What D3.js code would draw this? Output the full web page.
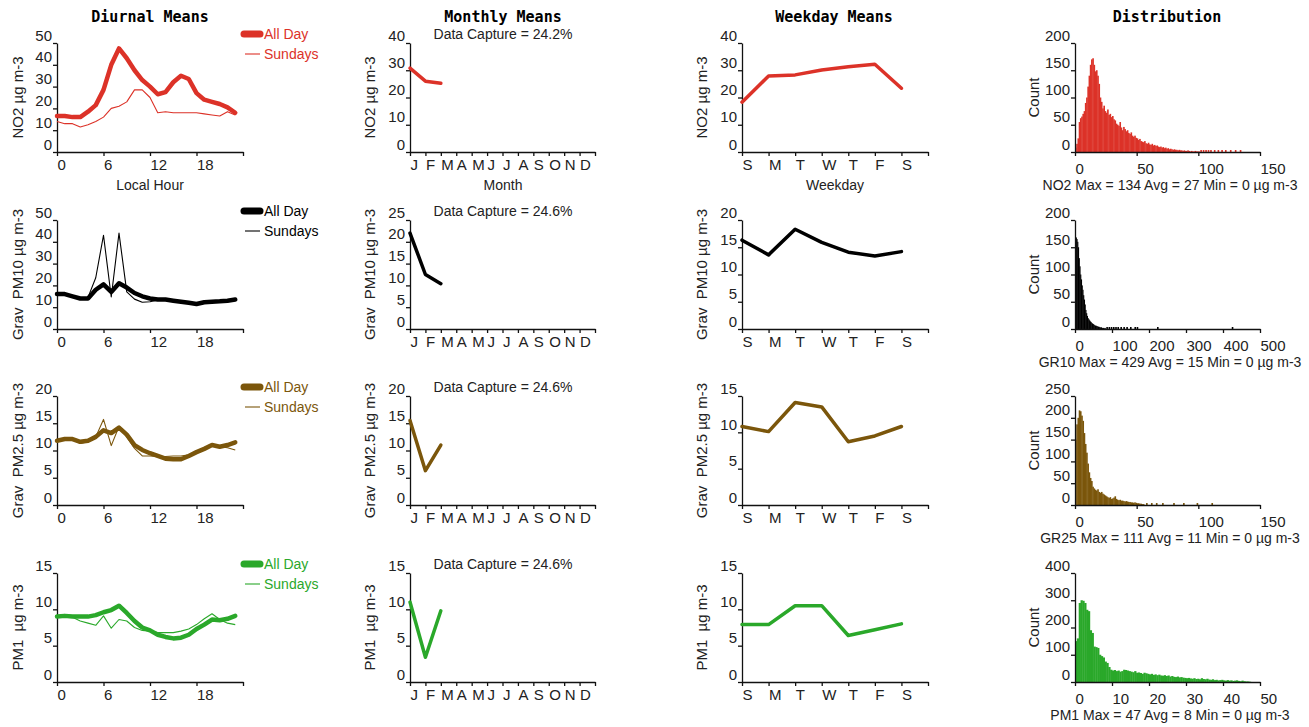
<!DOCTYPE html>
<html><head><meta charset="utf-8">
<script src="https://cdn.jsdelivr.net/npm/d3@7"></script>
<style>
body{margin:0;background:#fff;}
svg text{font-family:Arial,"Liberation Sans",sans-serif;}
.ttl{font-family:"DejaVu Sans Mono","Liberation Mono",monospace !important;font-weight:bold;}
</style>
</head><body>
<svg id="chart" width="1309" height="727"></svg>
<script>
// ---------------- DATA ----------------
const seriesNames = ["NO2", "Grav  PM10", "Grav  PM2.5", "PM1 "];
const seriesColors = ["#dc3228", "#000000", "#7b560b", "#2aa82a"];
const unitLabel = "µg m-3";

const hours = [0,1,2,3,4,5,6,7,8,9,10,11,12,13,14,15,16,17,18,19,20,21,22,23];
const hourTicks = [0, 6, 12, 18, 24];
const hourTickLabels = ["0", "6", "12", "18", ""];

const diurnalNO2All = [16.5,16.5,16,16,18.5,21.5,28.5,40,47.5,43,37.5,33,30,26.5,27.5,32,35,33.5,27,24,23,22,20.5,18];
const diurnalNO2Sun = [14,13,13,11.5,12.5,14,16,20,21,23,28.5,28.5,25,18,18.5,18,18,18,18,17.5,17,16.5,18.5,17];
const diurnalPM10All = [16,16,15,14,14,18,20.5,17,21,19,16.5,15,14,13.5,13.5,13,12.5,12,11.5,12.3,12.5,12.7,13,13.5];
const diurnalPM10Sun = [15.5,15.7,15.5,14,14.5,23.5,43,14.7,44,17,13.7,12.3,12.5,13.3,13.3,12.8,12.3,11.8,11.3,12,12.3,12.5,12.8,13.2];
const diurnalPM25All = [11.8,12.1,12.1,11.6,11.8,12.5,13.7,13.2,14.2,12.9,11,10.1,9.5,9,8.5,8.4,8.4,9,9.7,10.3,11,10.7,11,11.5];
const diurnalPM25Sun = [11.8,12.1,12.1,11.3,11.6,12.5,15.7,10.9,14.4,12.5,10.4,9,9,8.9,8.9,9,9,9.2,9.7,10.3,11.1,10.7,10.5,10.1];
const diurnalPM1All = [9.0,9.1,9.0,9.0,9.0,9.2,9.6,9.9,10.5,9.5,8.4,7.5,7.1,6.5,6.2,6.0,6.1,6.5,7.3,7.9,8.6,8.5,8.7,9.1];
const diurnalPM1Sun = [9.0,9.1,8.9,8.4,8.1,7.8,9.1,7.4,8.6,8.4,7.5,7.1,7.0,6.8,6.8,6.8,7.0,7.3,7.9,8.7,9.4,8.6,8.1,7.9];

const monthLabels = ["J","F","M","A","M","J","J","A","S","O","N","D"];
const monthlyNO2 = [30.8, 26.0, 25.2];
const monthlyPM10 = [22.0, 12.5, 10.4];
const monthlyPM25 = [15.5, 6.3, 11.0];
const monthlyPM1 = [11.0, 3.4, 9.8];
const dataCapture = ["24.2%", "24.6%", "24.6%", "24.6%"];

const weekdayLabels = ["S","M","T","W","T","F","S"];
const weekdayNO2 = [18.3, 27.9, 28.3, 30.1, 31.3, 32.2, 23.4];
const weekdayPM10 = [16.3, 13.6, 18.3, 15.9, 14.1, 13.4, 14.2];
const weekdayPM25 = [10.8, 10.1, 14.1, 13.5, 8.7, 9.5, 10.8];
const weekdayPM1 = [7.9, 7.9, 10.5, 10.5, 6.4, 7.2, 8.0];

// y-axis maxima / steps per column
const diurnalYMax = [50, 50, 20, 15], diurnalYStep = [10, 10, 5, 5];
const monthlyYMax = [40, 25, 20, 15], monthlyYStep = [10, 5, 5, 5];
const weekdayYMax = [40, 20, 15, 15], weekdayYStep = [10, 5, 5, 5];
const distYMax = [200, 200, 250, 400], distYStep = [50, 50, 50, 100];
const distXMax = [150, 500, 150, 50], distXStep = [50, 100, 50, 10];

// distribution captions
const distNames = ["NO2", "GR10", "GR25", "PM1"];
const distMax = [134, 429, 111, 47];
const distAvg = [27, 15, 11, 8];
const distMin = [0, 0, 0, 0];

// histogram counts (dense part: bin i starts at i*binWidth) + sparse tail [value,count]
const histBinWidth = [1, 2, 1, 0.5];
const histNO2 = [8,15,25,55,62,65,70,75,90,100,120,140,160,170,172,160,148,150,140,125,100,92,80,85,75,72,78,68,70,64,66,60,58,52,50,48,55,45,40,46,42,38,40,35,33,36,30,28,30,26,25,22,24,20,19,18,20,16,15,17,14,13,15,12,13,11,12,10,9,10,8,9,7,8,6,7,5,6,5,4,5,4,4,3,4,3,3,2,3,2,2,3,2,1,2,1,1,2,1,1,1];
const tailNO2 = [[102,1],[104,1],[106,1],[108,2],[110,1],[113,1],[116,2],[119,1],[122,1],[126,1],[130,1],[134,1]];
const histGR10 = [150,168,165,160,150,130,115,100,91,80,72,62,54,45,35,29,24,20,18,16,14,13,11,10,9,8,7,6,6,5,5,4,4,3,3,3,2,2,2,1,2];
const tailGR10 = [[86,1],[92,1],[98,2],[104,1],[110,1],[116,2],[124,1],[132,1],[140,1],[150,1],[162,1],[168,1],[223,2],[425,2]];
const histGR25 = [150,185,200,217,215,205,193,165,140,120,95,75,62,55,42,38,35,33,36,30,28,30,26,24,22,20,18,16,18,14,15,17,20,14,12,11,12,10,10,9,8,9,8,7,7,6,6,5,6,5,4,4,3,3,2,2];
const tailGR25 = [[58,1],[62,1],[66,1],[71,1],[80,1],[88,2],[99,1],[111,1]];
const histPM1 = [150,160,290,300,298,290,265,260,190,180,130,128,125,100,95,90,75,70,55,45,42,44,40,42,38,40,45,44,42,40,38,36,40,34,35,33,30,34,32,30,28,30,26,28,25,27,24,23,25,22,24,20,22,19,18,20,17,18,16,15,14,15,13,12,14,11,12,10,14,11,10,12,9,8,10,7,8,6,7,8,6,5,7,5,6,4,5,6,4,3,5,3,2,2,1];
const tailPM1 = [];

// ---------------- LAYOUT ----------------
const svg = d3.select("#chart");
const rowTop = [43, 220, 396, 573];
const axisH = 109;
const colX = { diurnal: [57, 243], monthly: [410, 595], weekday: [742, 928], dist: [1075, 1260] };
const yTitleX = { diurnal: 17, monthly: 369, weekday: 701, dist: 1033 };
const FONT = 15;

const diurnalAll = [diurnalNO2All, diurnalPM10All, diurnalPM25All, diurnalPM1All];
const diurnalSun = [diurnalNO2Sun, diurnalPM10Sun, diurnalPM25Sun, diurnalPM1Sun];
const monthly = [monthlyNO2, monthlyPM10, monthlyPM25, monthlyPM1];
const weekday = [weekdayNO2, weekdayPM10, weekdayPM25, weekdayPM1];
const hists = [histNO2, histGR10, histGR25, histPM1];
const tails = [tailNO2, tailGR10, tailGR25, tailPM1];

function ticksTo(max, step) { const t = []; for (let v = 0; v <= max + 1e-9; v += step) t.push(+v.toFixed(6)); return t; }

function drawAxes(xs, ys, xTickVals, xFmt, yTickVals, xLabelDy) {
  const bottom = ys.range()[0];
  const left = xs.range()[0];
  const gx = svg.append("g").attr("transform", `translate(0,${bottom})`)
    .call(d3.axisBottom(xs).tickValues(xTickVals).tickFormat(xFmt).tickSize(4).tickSizeOuter(0));
  gx.attr("font-size", FONT).attr("font-family", null);
  gx.selectAll("text").attr("text-anchor", "start").attr("y", xLabelDy).attr("dy", 0).attr("x", 0).attr("fill", "#222");
  gx.selectAll("line,path").attr("stroke", "#111").attr("stroke-width", 1.3);
  const gy = svg.append("g").attr("transform", `translate(${left},0)`)
    .call(d3.axisLeft(ys).tickValues(yTickVals).tickSize(4).tickSizeOuter(0));
  gy.attr("font-size", FONT).attr("font-family", null);
  gy.selectAll("text").attr("x", -5).attr("y", -3).attr("dy", 0).attr("fill", "#222");
  gy.selectAll("line,path").attr("stroke", "#111").attr("stroke-width", 1.3);
}

function yTitle(x, row, text) {
  const mid = rowTop[row] + axisH / 2;
  svg.append("text").attr("transform", `translate(${x},${mid}) rotate(-90)`)
    .attr("text-anchor", "middle").attr("dominant-baseline", "central")
    .attr("font-size", FONT).attr("fill", "#222").style("white-space", "pre").text(text);
}

// column titles
const titles = [["Diurnal Means", 150], ["Monthly Means", 503], ["Weekday Means", 834], ["Distribution", 1167]];
titles.forEach(([t, x]) => svg.append("text").attr("class", "ttl").attr("x", x).attr("y", 22)
  .attr("text-anchor", "middle").attr("font-size", 15).attr("fill", "#000").text(t));

for (let r = 0; r < 4; r++) {
  const top = rowTop[r], bot = top + axisH;
  const col = seriesColors[r];
  const title = seriesNames[r] + " " + unitLabel;

  // ---- Diurnal ----
  {
    const xs = d3.scaleLinear().domain([0, 24]).range(colX.diurnal);
    const ys = d3.scaleLinear().domain([0, diurnalYMax[r]]).range([bot, top]);
    drawAxes(xs, ys, hourTicks, (d, i) => hourTickLabels[i], ticksTo(diurnalYMax[r], diurnalYStep[r]), 18);
    yTitle(yTitleX.diurnal, r, title);
    const line = d3.line().x((d, i) => xs(hours[i])).y(d => ys(d));
    svg.append("path").datum(diurnalSun[r]).attr("d", line).attr("fill", "none")
      .attr("stroke", col).attr("stroke-width", 1.1).attr("stroke-linejoin", "round");
    svg.append("path").datum(diurnalAll[r]).attr("d", line).attr("fill", "none")
      .attr("stroke", col).attr("stroke-width", 4.5).attr("stroke-linejoin", "round").attr("stroke-linecap", "round");
    // legend
    svg.append("line").attr("x1", 244).attr("x2", 260).attr("y1", top - 9).attr("y2", top - 9)
      .attr("stroke", col).attr("stroke-width", 7).attr("stroke-linecap", "round");
    svg.append("text").attr("x", 264).attr("y", top - 9).attr("dominant-baseline", "central")
      .attr("font-size", 14).attr("fill", col).text("All Day");
    svg.append("line").attr("x1", 245).attr("x2", 260).attr("y1", top + 11).attr("y2", top + 11)
      .attr("stroke", col).attr("stroke-width", 1.1);
    svg.append("text").attr("x", 264).attr("y", top + 11).attr("dominant-baseline", "central")
      .attr("font-size", 14).attr("fill", col).text("Sundays");
    if (r === 0) svg.append("text").attr("x", 150).attr("y", bot + 38).attr("text-anchor", "middle")
      .attr("font-size", 14).attr("fill", "#222").text("Local Hour");
  }

  // ---- Monthly ----
  {
    const xs = d3.scaleLinear().domain([0, 12]).range(colX.monthly);
    const ys = d3.scaleLinear().domain([0, monthlyYMax[r]]).range([bot, top]);
    drawAxes(xs, ys, d3.range(13), (d, i) => monthLabels[i] || "", ticksTo(monthlyYMax[r], monthlyYStep[r]), 18);
    yTitle(yTitleX.monthly, r, title);
    const line = d3.line().x((d, i) => xs(i)).y(d => ys(d));
    svg.append("path").datum(monthly[r]).attr("d", line).attr("fill", "none")
      .attr("stroke", col).attr("stroke-width", 3.5).attr("stroke-linejoin", "round").attr("stroke-linecap", "round");
    svg.append("text").attr("x", 503).attr("y", top - 9).attr("dominant-baseline", "central")
      .attr("text-anchor", "middle").attr("font-size", 14).attr("fill", "#222")
      .text("Data Capture = " + dataCapture[r]);
    if (r === 0) svg.append("text").attr("x", 503).attr("y", bot + 38).attr("text-anchor", "middle")
      .attr("font-size", 14).attr("fill", "#222").text("Month");
  }

  // ---- Weekday ----
  {
    const xs = d3.scaleLinear().domain([0, 7]).range(colX.weekday);
    const ys = d3.scaleLinear().domain([0, weekdayYMax[r]]).range([bot, top]);
    drawAxes(xs, ys, d3.range(8), (d, i) => weekdayLabels[i] || "", ticksTo(weekdayYMax[r], weekdayYStep[r]), 18);
    yTitle(yTitleX.weekday, r, title);
    const line = d3.line().x((d, i) => xs(i)).y(d => ys(d));
    svg.append("path").datum(weekday[r]).attr("d", line).attr("fill", "none")
      .attr("stroke", col).attr("stroke-width", 3.5).attr("stroke-linejoin", "round").attr("stroke-linecap", "round");
    if (r === 0) svg.append("text").attr("x", 835).attr("y", bot + 38).attr("text-anchor", "middle")
      .attr("font-size", 14).attr("fill", "#222").text("Weekday");
  }

  // ---- Distribution ----
  {
    const xs = d3.scaleLinear().domain([0, distXMax[r]]).range(colX.dist);
    const ys = d3.scaleLinear().domain([0, distYMax[r]]).range([bot, top]);
    const bw = histBinWidth[r];
    const bars = hists[r].map((c, i) => ({ x: i * bw, c: c, w: bw }))
      .concat(tails[r].map(([v, c]) => ({ x: v, c: c, w: bw, tail: true })));
    svg.append("g").selectAll("rect").data(bars).join("rect")
      .attr("x", d => xs(d.x) - (d.tail ? 0.5 : 0))
      .attr("width", d => Math.max(xs(d.x + d.w) - xs(d.x) + 0.4, d.tail ? 1.6 : 0.8))
      .attr("y", d => Math.min(ys(d.c), bot - (d.tail ? 2 : 0)))
      .attr("height", d => Math.max(bot - ys(d.c), d.tail ? 2 : 0))
      .attr("fill", col);
    drawAxes(xs, ys, ticksTo(distXMax[r], distXStep[r]), d3.format("d"), ticksTo(distYMax[r], distYStep[r]), 22);
    yTitle(yTitleX.dist, r, "Count");
    svg.append("text").attr("x", 1170).attr("y", bot + 38).attr("text-anchor", "middle")
      .attr("font-size", 14).attr("fill", "#222")
      .text(`${distNames[r]} Max = ${distMax[r]} Avg = ${distAvg[r]} Min = ${distMin[r]} ${unitLabel}`);
  }
}
</script>
</body></html>
